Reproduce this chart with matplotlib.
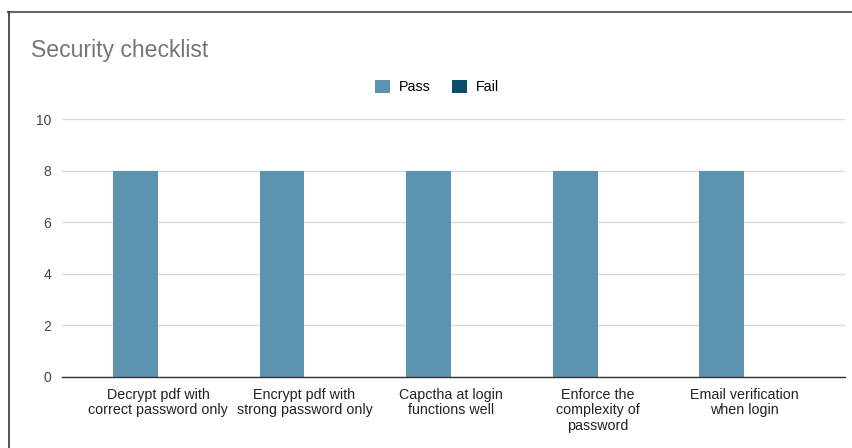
import matplotlib
matplotlib.use("Agg")
import matplotlib.pyplot as plt
from matplotlib.lines import Line2D
from matplotlib.patches import Patch
import numpy as np

plt.rcParams['font.family'] = ['Liberation Sans', 'DejaVu Sans']

categories = [
    "Decrypt pdf with\ncorrect password only",
    "Encrypt pdf with\nstrong password only",
    "Capctha at login\nfunctions well",
    "Enforce the\ncomplexity of\npassword",
    "Email verification\nwhen login",
]
pass_counts = [8, 8, 8, 8, 8]
fail_counts = [0, 0, 0, 0, 0]
y_ticks = [0, 2, 4, 6, 8, 10]

pass_color = "#5b93b1"
fail_color = "#0b4c69"

W, H = 853, 448
fig = plt.figure(figsize=(W / 100, H / 100), dpi=100)
ax = fig.add_axes([62 / W, 1 - 377 / H, (845 - 62) / W, (377 - 119) / H])

x = np.arange(len(categories))
bw = 0.307
ax.bar(x - bw / 2, pass_counts, width=bw, color=pass_color, zorder=3)
ax.bar(x + bw / 2, fail_counts, width=bw, color=fail_color, zorder=3)

ax.set_xlim(-0.655, 4.689)
ax.set_ylim(0, 10)
ax.set_yticks(y_ticks)
ax.set_yticklabels([str(t) for t in y_ticks], fontsize=10, color="#444444")
ax.set_xticks(x)
ax.set_xticklabels(categories, fontsize=10.3, color="#222222", linespacing=1.12)
ax.tick_params(axis="both", length=0)
ax.tick_params(axis="y", pad=8)
ax.tick_params(axis="x", pad=8)
ax.grid(axis="y", color="#d9d9d9", linewidth=1, zorder=0)
for s in ["top", "right", "left"]:
    ax.spines[s].set_visible(False)
ax.spines["bottom"].set_color("#333333")
ax.spines["bottom"].set_linewidth(1)
ax.spines["bottom"].set_zorder(4)

fig.text(31 / W, 1 - 51 / H, "Security checklist", fontsize=16.6, color="#757575",
         ha="left", va="center")

handles = [Patch(facecolor=pass_color, label="Pass"), Patch(facecolor=fail_color, label="Fail")]
fig.legend(handles=handles, loc="center", bbox_to_anchor=(437 / W, 1 - 87 / H), ncol=2,
           frameon=False, fontsize=10.3, handlelength=1.05, handleheight=1.05,
           handletextpad=0.6, columnspacing=1.5)

# card outline along the top and left edges
fig.add_artist(Line2D([8 / W, 1.0], [1 - 12.5 / H, 1 - 12.5 / H], transform=fig.transFigure,
                      color="#666666", linewidth=1.5))
fig.add_artist(Line2D([8.5 / W, 8.5 / W], [0, 1 - 12.5 / H], transform=fig.transFigure,
                      color="#333333", linewidth=1.2))

fig.savefig("out.png", dpi=100)
